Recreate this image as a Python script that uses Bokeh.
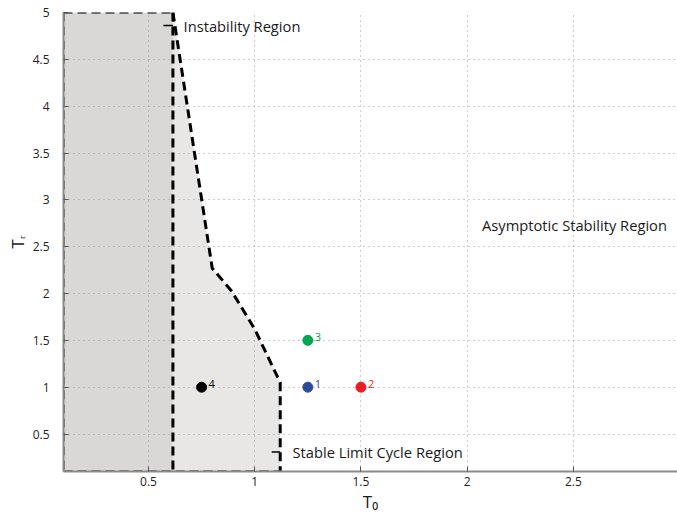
import math
from bokeh.plotting import figure
from bokeh.models import Range1d, FixedTicker, Label, ColumnDataSource
from bokeh.core.properties import value
from bokeh.embed import file_html
from bokeh.resources import INLINE

FONT = "Open Sans"

# ---- data ----
x_ticks = [0.5, 1.0, 1.5, 2.0, 2.5, 3.0]
x_tick_labels = ["0.5", "1", "1.5", "2", "2.5", "3"]
y_ticks = [0.5, 1.0, 1.5, 2.0, 2.5, 3.0, 3.5, 4.0, 4.5, 5.0]
y_tick_labels = ["0.5", "1", "1.5", "2", "2.5", "3", "3.5", "4", "4.5", "5"]

# instability region (dark)
instab_T0 = [0.1, 0.615, 0.615, 0.1]
instab_Tr = [0.1, 0.1, 5.0, 5.0]
# stable limit cycle region boundary (light)
limit_T0 = [0.615, 0.80, 0.89, 1.0, 1.12, 1.12, 0.615]
limit_Tr = [5.0, 2.27, 2.03, 1.62, 1.05, 0.1, 0.1]
# curved boundary (dashed)
curve_T0 = [0.615, 0.80, 0.89, 1.0, 1.12, 1.12]
curve_Tr = [5.0, 2.27, 2.03, 1.62, 1.05, 0.1]

# operating points
pt_T0 = [1.25, 1.5, 1.25, 0.75]
pt_Tr = [1.0, 1.0, 1.5, 1.0]
pt_labels = ["1", "2", "3", "4"]
pt_colors = ["#2e4b9b", "#ec1c24", "#00a651", "#000000"]

x_lo, x_hi = 0.1, 2.99
y_lo, y_hi = 0.1, 5.0

p = figure(width=677, height=518, output_backend="svg", toolbar_location=None,
           x_range=Range1d(x_lo, x_hi), y_range=Range1d(y_lo, y_hi),
           min_border_left=63, min_border_right=0, min_border_top=12,
           min_border_bottom=47)
p.outline_line_color = None
p.background_fill_color = "white"
p.border_fill_color = "white"

# regions (drawn below the grid)
p.patch(instab_T0, instab_Tr, fill_color="#d9d8d7", line_color=None, level="image")
p.patch(limit_T0, limit_Tr, fill_color="#e8e7e6", line_color=None, level="image")

# grid
for g in (p.xgrid, p.ygrid):
    g.grid_line_color = "#9a9a9a"
    g.grid_line_dash = "1 4"
    g.grid_line_width = 1
p.xgrid.ticker = FixedTicker(ticks=x_ticks)
p.ygrid.ticker = FixedTicker(ticks=y_ticks)

# axes
for ax in (p.xaxis[0], p.yaxis[0]):
    ax.axis_line_color = "#8a8a8a"
    ax.axis_line_width = 2
    ax.major_tick_in = 5
    ax.major_tick_out = 0
    ax.minor_tick_line_color = None
    ax.major_tick_line_color = "#555555"
    ax.major_label_text_font = FONT
    ax.major_label_text_font_size = "12px"
    ax.major_label_text_color = "#222222"
    ax.axis_label_text_font = FONT
    ax.axis_label_text_font_style = "normal"
    ax.axis_label_text_color = "#1a1a1a"
    ax.axis_label_text_font_size = "17px"
p.xaxis[0].ticker = FixedTicker(ticks=x_ticks)
p.yaxis[0].ticker = FixedTicker(ticks=y_ticks)
p.xaxis[0].major_label_overrides = {t: l for t, l in zip(x_ticks, x_tick_labels)}
p.yaxis[0].major_label_overrides = {t: l for t, l in zip(y_ticks, y_tick_labels)}
p.xaxis[0].major_label_standoff = 5
p.yaxis[0].major_label_standoff = 14
p.xaxis[0].axis_label = "T\u2080"
p.yaxis[0].axis_label = "T\u1d63"
p.xaxis[0].axis_label_standoff = 1
p.yaxis[0].axis_label_standoff = 1

# boundary dashed lines
p.line([instab_T0[3], instab_T0[0]], [instab_Tr[3], instab_Tr[0]], line_color="black",
       line_width=2, line_dash="9 5")
p.line([instab_T0[3], instab_T0[2]], [instab_Tr[3], instab_Tr[2]], line_color="black",
       line_width=2, line_dash="9 5")
p.line([instab_T0[0], curve_T0[-1]], [instab_Tr[0], curve_Tr[-1]], line_color="black",
       line_width=2, line_dash="9 5")
p.line([instab_T0[2], instab_T0[1]], [instab_Tr[2], instab_Tr[1]], line_color="black",
       line_width=3, line_dash="9 5")
p.line(curve_T0, curve_Tr, line_color="black", line_width=3, line_dash="9 5")

# pointers of region labels
p.segment(x0=[0.57, 1.08], y0=[4.86, 0.307], x1=[0.615, 1.12], y1=[4.86, 0.307],
          line_color="black", line_width=1.5)

# points
src = ColumnDataSource(dict(x=pt_T0, y=pt_Tr, lab=pt_labels, col=pt_colors))
p.scatter("x", "y", source=src, size=10, fill_color="col", line_color="col")
p.text("x", "y", text="lab", source=src, text_color="col", x_offset=7, y_offset=-3,
       text_font=value(FONT), text_font_size="11px", text_baseline="middle",
       text_align="left")

# region labels
for txt, x, y in [("Instability Region", 0.665, 4.86),
                  ("Stable Limit Cycle Region", 1.178, 0.307),
                  ("Asymptotic Stability Region", 2.07, 2.73)]:
    p.add_layout(Label(x=x, y=y, text=txt, text_font=FONT, text_font_size="14.7px",
                       text_baseline="middle", text_align="left", text_color="#1a1a1a"))

open("out.html", "w").write(file_html(p, INLINE))
